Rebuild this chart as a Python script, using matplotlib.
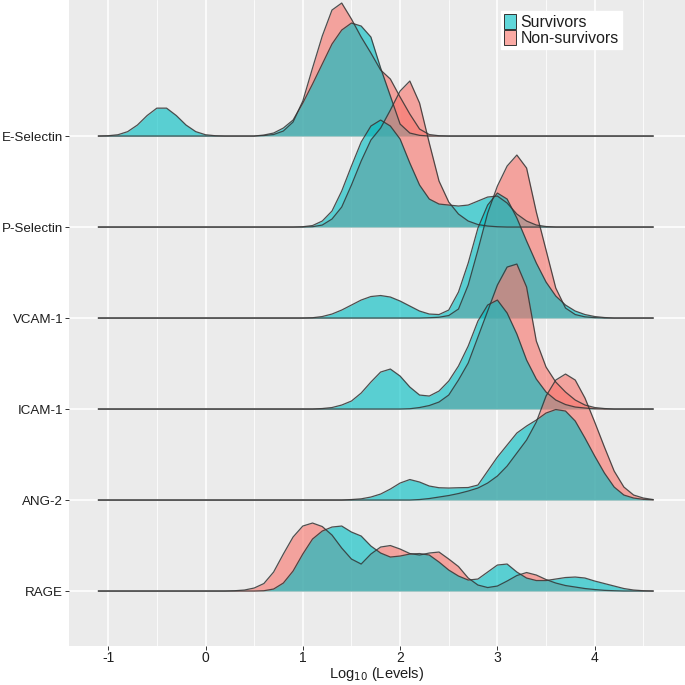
import numpy as np
import matplotlib
matplotlib.use("Agg")
import matplotlib.pyplot as plt
from matplotlib.patches import Patch
from matplotlib.colors import to_rgba

plt.rcParams['font.family'] = ['Liberation Sans', 'DejaVu Sans']

# ---------------- data ----------------
markers = ["RAGE", "ANG-2", "ICAM-1", "VCAM-1", "P-Selectin", "E-Selectin"]
groups = ["Survivors", "Non-survivors"]
x_ticks = [-1, 0, 1, 2, 3, 4]
x_grid = np.round(np.arange(-1.1, 4.65, 0.1), 1)  # log10 levels, -1.1 .. 4.6

# relative density heights (one value per x_grid point)
e_sel_surv = [0, 0.3, 1.3, 4.4, 11, 20.5, 27.9, 27.9, 20.5, 11,
              4.4, 1.3, 0.3, 0, 0, 0, 0, 1, 3, 8,
              16, 33, 52, 72, 92, 106, 113, 110, 99, 68,
              40, 12, 3, 0.7, 0, 0, 0, 0, 0, 0,
              0, 0, 0, 0, 0, 0, 0, 0, 0, 0,
              0, 0, 0, 0, 0, 0, 0, 0]
e_sel_non = [0, 0, 0, 0, 0, 0, 0, 0, 0, 0,
             0, 0, 0, 0, 0, 0, 0, 0.5, 1.5, 5,
             14, 35, 68, 100, 126, 133, 117, 99, 83, 66,
             57, 39, 22, 7, 1.5, 0.3, 0, 0, 0, 0,
             0, 0, 0, 0, 0, 0, 0, 0, 0, 0,
             0, 0, 0, 0, 0, 0, 0, 0]
p_sel_surv = [0, 0, 0, 0, 0, 0, 0, 0, 0, 0,
              0, 0, 0, 0, 0, 0, 0, 0, 0, 0,
              0, 0.3, 1.5, 6, 16, 36, 61, 85, 101, 107,
              101, 88, 64, 42, 28, 23, 22, 21, 22, 26,
              30, 31, 24, 13, 6, 2, 0.5, 0, 0, 0,
              0, 0, 0, 0, 0, 0, 0, 0]
p_sel_non = [0, 0, 0, 0, 0, 0, 0, 0, 0, 0,
             0, 0, 0, 0, 0, 0, 0, 0, 0, 0,
             0, 0, 0.3, 2, 8, 20, 42, 66, 87, 99,
             117, 136, 146, 124, 84, 46, 25, 13, 6, 2.5,
             1, 0.3, 0, 0, 0, 0, 0, 0, 0, 0,
             0, 0, 0, 0, 0, 0, 0, 0]
vcam_surv = [0, 0, 0, 0, 0, 0, 0, 0, 0, 0,
             0, 0, 0, 0, 0, 0, 0, 0, 0, 0,
             0, 0, 0.3, 1.5, 4, 8, 13, 18, 21.5, 22.5,
             21, 17, 12, 7, 4, 3.5, 8, 26, 55, 90,
             113, 125, 119, 100, 77, 55, 36, 22, 13, 7,
             3.5, 1.5, 0.5, 0, 0, 0, 0, 0]
vcam_non = [0, 0, 0, 0, 0, 0, 0, 0, 0, 0,
            0, 0, 0, 0, 0, 0, 0, 0, 0, 0,
            0, 0, 0, 0, 0, 0, 0, 0, 0, 0,
            0, 0, 0, 0, 0.3, 0.8, 2.5, 9, 33, 68,
            105, 132, 152, 163, 150, 106, 68, 30, 10, 3.5,
            1.2, 0.4, 0, 0, 0, 0, 0, 0]
icam_surv = [0, 0, 0, 0, 0, 0, 0, 0, 0, 0,
             0, 0, 0, 0, 0, 0, 0, 0, 0, 0,
             0, 0, 0, 0.5, 1.5, 4, 8, 16, 27, 37,
             40, 33, 22, 14, 13, 18, 28, 43, 63, 88,
             104, 109, 96, 75, 49, 30, 17, 9, 4.5, 2,
             1, 0.3, 0, 0, 0, 0, 0, 0]
icam_non = [0, 0, 0, 0, 0, 0, 0, 0, 0, 0,
            0, 0, 0, 0, 0, 0, 0, 0, 0, 0,
            0, 0, 0, 0, 0, 0, 0, 0, 0, 0,
            0, 0, 0.3, 1.5, 3.5, 7, 14, 29, 46, 72,
            98, 124, 142, 145, 122, 68, 42, 27, 17, 9,
            4, 1.5, 0.5, 0, 0, 0, 0, 0]
ang2_surv = [0, 0, 0, 0, 0, 0, 0, 0, 0, 0,
             0, 0, 0, 0, 0, 0, 0, 0, 0, 0,
             0, 0, 0, 0, 0, 0, 0.5, 1.2, 3, 6,
             11, 17, 20.5, 18, 14, 12.3, 12, 12.3, 12.5, 15,
             29, 43, 55, 67, 74, 80, 87, 90.5, 89, 79,
             62, 44, 27, 13, 5, 2, 0.7, 0.2]
ang2_non = [0, 0, 0, 0, 0, 0, 0, 0, 0, 0,
            0, 0, 0, 0, 0, 0, 0, 0, 0, 0,
            0, 0, 0, 0, 0, 0, 0, 0, 0, 0,
            0, 0, 0, 0.5, 1.5, 3, 4.5, 6.5, 9, 12,
            17, 24, 34, 47, 60, 78, 104, 120, 126, 120,
            102, 78, 53, 29, 13, 5, 2, 0.5]
rage_surv = [0, 0, 0, 0, 0, 0, 0, 0, 0, 0,
             0, 0, 0, 0, 0, 0, 0, 0.3, 2, 8,
             20, 37, 52, 60, 64, 65, 59, 55, 45, 38,
             34, 35, 37, 37.5, 36, 29, 21, 15, 11, 12,
             19, 26, 27, 19, 13, 10.5, 10.5, 12, 13.5, 14,
             13, 10, 7.5, 5, 2.5, 1, 0.3, 0]
rage_non = [0, 0, 0, 0, 0, 0, 0, 0, 0, 0,
            0, 0, 0, 0, 0.3, 1, 3, 7.5, 19, 37,
            54, 65, 68, 64.5, 56, 43, 32, 27, 37, 44,
            45.5, 42, 37.5, 36, 38, 39, 32, 24.5, 13, 6,
            3.5, 5, 10, 15.5, 18.5, 16, 11.5, 8, 5.5, 4,
            2.5, 1.5, 0.7, 0.3, 0, 0, 0, 0]

survivors = [rage_surv, ang2_surv, icam_surv, vcam_surv, p_sel_surv, e_sel_surv]
non_survivors = [rage_non, ang2_non, icam_non, vcam_non, p_sel_non, e_sel_non]

# ---------------- style ----------------
ridge_scale = 1 / 91.0
col_surv = "#00BFC4"
col_non = "#F8766D"
fill_alpha = 0.62
line_col = "#333333"
bg = "#EBEBEB"
txt_col = "#1e1e1e"

W = H = 685
fig = plt.figure(figsize=(W / 100, H / 100), dpi=100)
ax = fig.add_axes([68.7 / W, 39 / H, 615.9 / W, 646 / H])
ax.set_facecolor(bg)
for s in ax.spines.values():
    s.set_visible(False)

ax.set_xlim(-1.406, 4.924)
ax.set_ylim(-0.604, 6.495)

ax.set_xticks(x_ticks)
ax.set_xticklabels([str(v) for v in x_ticks])
ax.set_xticks(np.arange(-0.5, 4.6, 1.0), minor=True)
ax.set_yticks(range(len(markers)))
ax.set_yticklabels(markers)
ax.set_axisbelow(True)
ax.grid(which="major", color="white", lw=1.1)
ax.grid(which="minor", axis="x", color="white", lw=0.55)
ax.tick_params(which="major", length=2.8, width=0.7, color="#333333",
               labelsize=9.6, labelcolor=txt_col, pad=1.2)
ax.tick_params(axis="x", which="major", labelsize=10, pad=0.6)
ax.tick_params(which="minor", length=0)

# draw ridges from top to bottom so lower ridges overlay upper ones
for idx in range(len(markers) - 1, -1, -1):
    for vals, col in ((non_survivors[idx], col_non), (survivors[idx], col_surv)):
        y = idx + np.asarray(vals) * ridge_scale
        ax.fill_between(x_grid, idx, y, color=col, alpha=fill_alpha, lw=0)
        ax.plot(x_grid, y, color=line_col, lw=0.9, alpha=0.85,
                solid_joinstyle="round")

ax.set_xlabel("Log$_{10}$ (Levels)", fontsize=10.5, color=txt_col, labelpad=0.5)

handles = [Patch(facecolor=to_rgba(col_surv, fill_alpha), edgecolor="#333333", lw=0.7),
           Patch(facecolor=to_rgba(col_non, fill_alpha), edgecolor="#333333", lw=0.7)]
leg = fig.legend(handles, groups, loc="upper left",
                 bbox_to_anchor=(501 / W, 1 - 11 / H), bbox_transform=fig.transFigure,
                 fontsize=11.4, frameon=True, fancybox=False, framealpha=1,
                 edgecolor="white", facecolor="white", borderpad=0.22,
                 handlelength=0.7, handleheight=1.05, handletextpad=0.3,
                 labelspacing=0.0, borderaxespad=0)
for t in leg.get_texts():
    t.set_color(txt_col)

fig.savefig("out.png", dpi=100)
